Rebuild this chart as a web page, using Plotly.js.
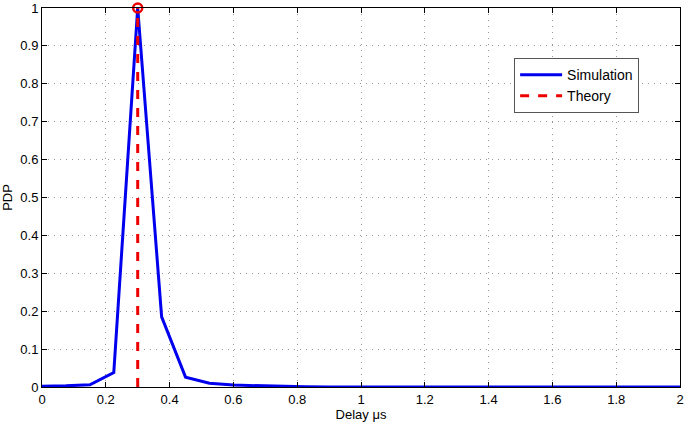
<!DOCTYPE html>
<html>
<head>
<meta charset="utf-8">
<script src="https://cdn.plot.ly/plotly-3.0.1.min.js"></script>
<style>
  html, body { margin: 0; padding: 0; background: #fff; }
  #chart { width: 685px; height: 425px; }
</style>
</head>
<body>
<div id="chart"></div>
<script>
// simulated power delay profile
const delaySim = [0, 0.075, 0.15, 0.225, 0.3, 0.375, 0.45, 0.525, 0.6, 0.675, 0.75, 0.825, 0.9, 1.2, 1.6, 2];
const pdpSim = [0.002, 0.003, 0.006, 0.038, 1.0, 0.185, 0.026, 0.01, 0.005, 0.003, 0.001, 0.0005, 0.0002, 0, 0, 0];

// theoretical single path
const delayTheory = [0.3, 0.3];
const pdpTheory = [0, 1];

const xTicks = [0, 0.2, 0.4, 0.6, 0.8, 1, 1.2, 1.4, 1.6, 1.8, 2];
const yTicks = [0, 0.1, 0.2, 0.3, 0.4, 0.5, 0.6, 0.7, 0.8, 0.9, 1];

const traces = [
    {
        x: delaySim,
        y: pdpSim,
        type: 'scatter',
        mode: 'lines',
        name: 'Simulation',
        line: { color: '#0000ee', width: 3 }
    },
    {
        x: delayTheory,
        y: pdpTheory,
        type: 'scatter',
        mode: 'lines',
        name: 'Theory',
        line: { color: '#ee0000', width: 3, dash: 'dash' }
    },
    {
        x: [delayTheory[1]],
        y: [pdpTheory[1]],
        type: 'scatter',
        mode: 'markers',
        showlegend: false,
        cliponaxis: false,
        marker: { symbol: 'circle-open', size: 9, color: '#ee0000', line: { width: 2.5, color: '#ee0000' } }
    }
];

const axisCommon = {
    showline: true,
    linecolor: '#000',
    linewidth: 1,
    mirror: 'ticks',
    ticks: 'inside',
    ticklen: 5,
    tickcolor: '#000',
    showgrid: true,
    gridcolor: '#999999',
    griddash: '1px,5px',
    gridwidth: 1,
    zeroline: false,
    tickfont: { size: 13, color: '#000' }
};

const layout = {
    width: 685,
    height: 425,
    paper_bgcolor: '#fff',
    plot_bgcolor: '#fff',
    font: { family: 'Liberation Sans, Arial, sans-serif', color: '#000' },
    margin: { l: 42, r: 5, t: 8, b: 38 },
    xaxis: Object.assign({}, axisCommon, {
        range: [0, 2],
        tickvals: xTicks,
        ticktext: xTicks.map(String),
        title: { text: 'Delay μs', font: { size: 13 }, standoff: 4 }
    }),
    yaxis: Object.assign({}, axisCommon, {
        range: [0, 1],
        tickvals: yTicks,
        ticktext: yTicks.map(String),
        title: { text: 'PDP', font: { size: 13 }, standoff: 6 }
    }),
    showlegend: true,
    legend: {
        x: 0.74,
        y: 0.868,
        xanchor: 'left',
        yanchor: 'top',
        bgcolor: '#fff',
        bordercolor: '#555',
        borderwidth: 1,
        font: { size: 14 },
        itemwidth: 42,
        tracegroupgap: 0
    }
};

Plotly.newPlot('chart', traces, layout, { displayModeBar: false });
</script>
</body>
</html>
